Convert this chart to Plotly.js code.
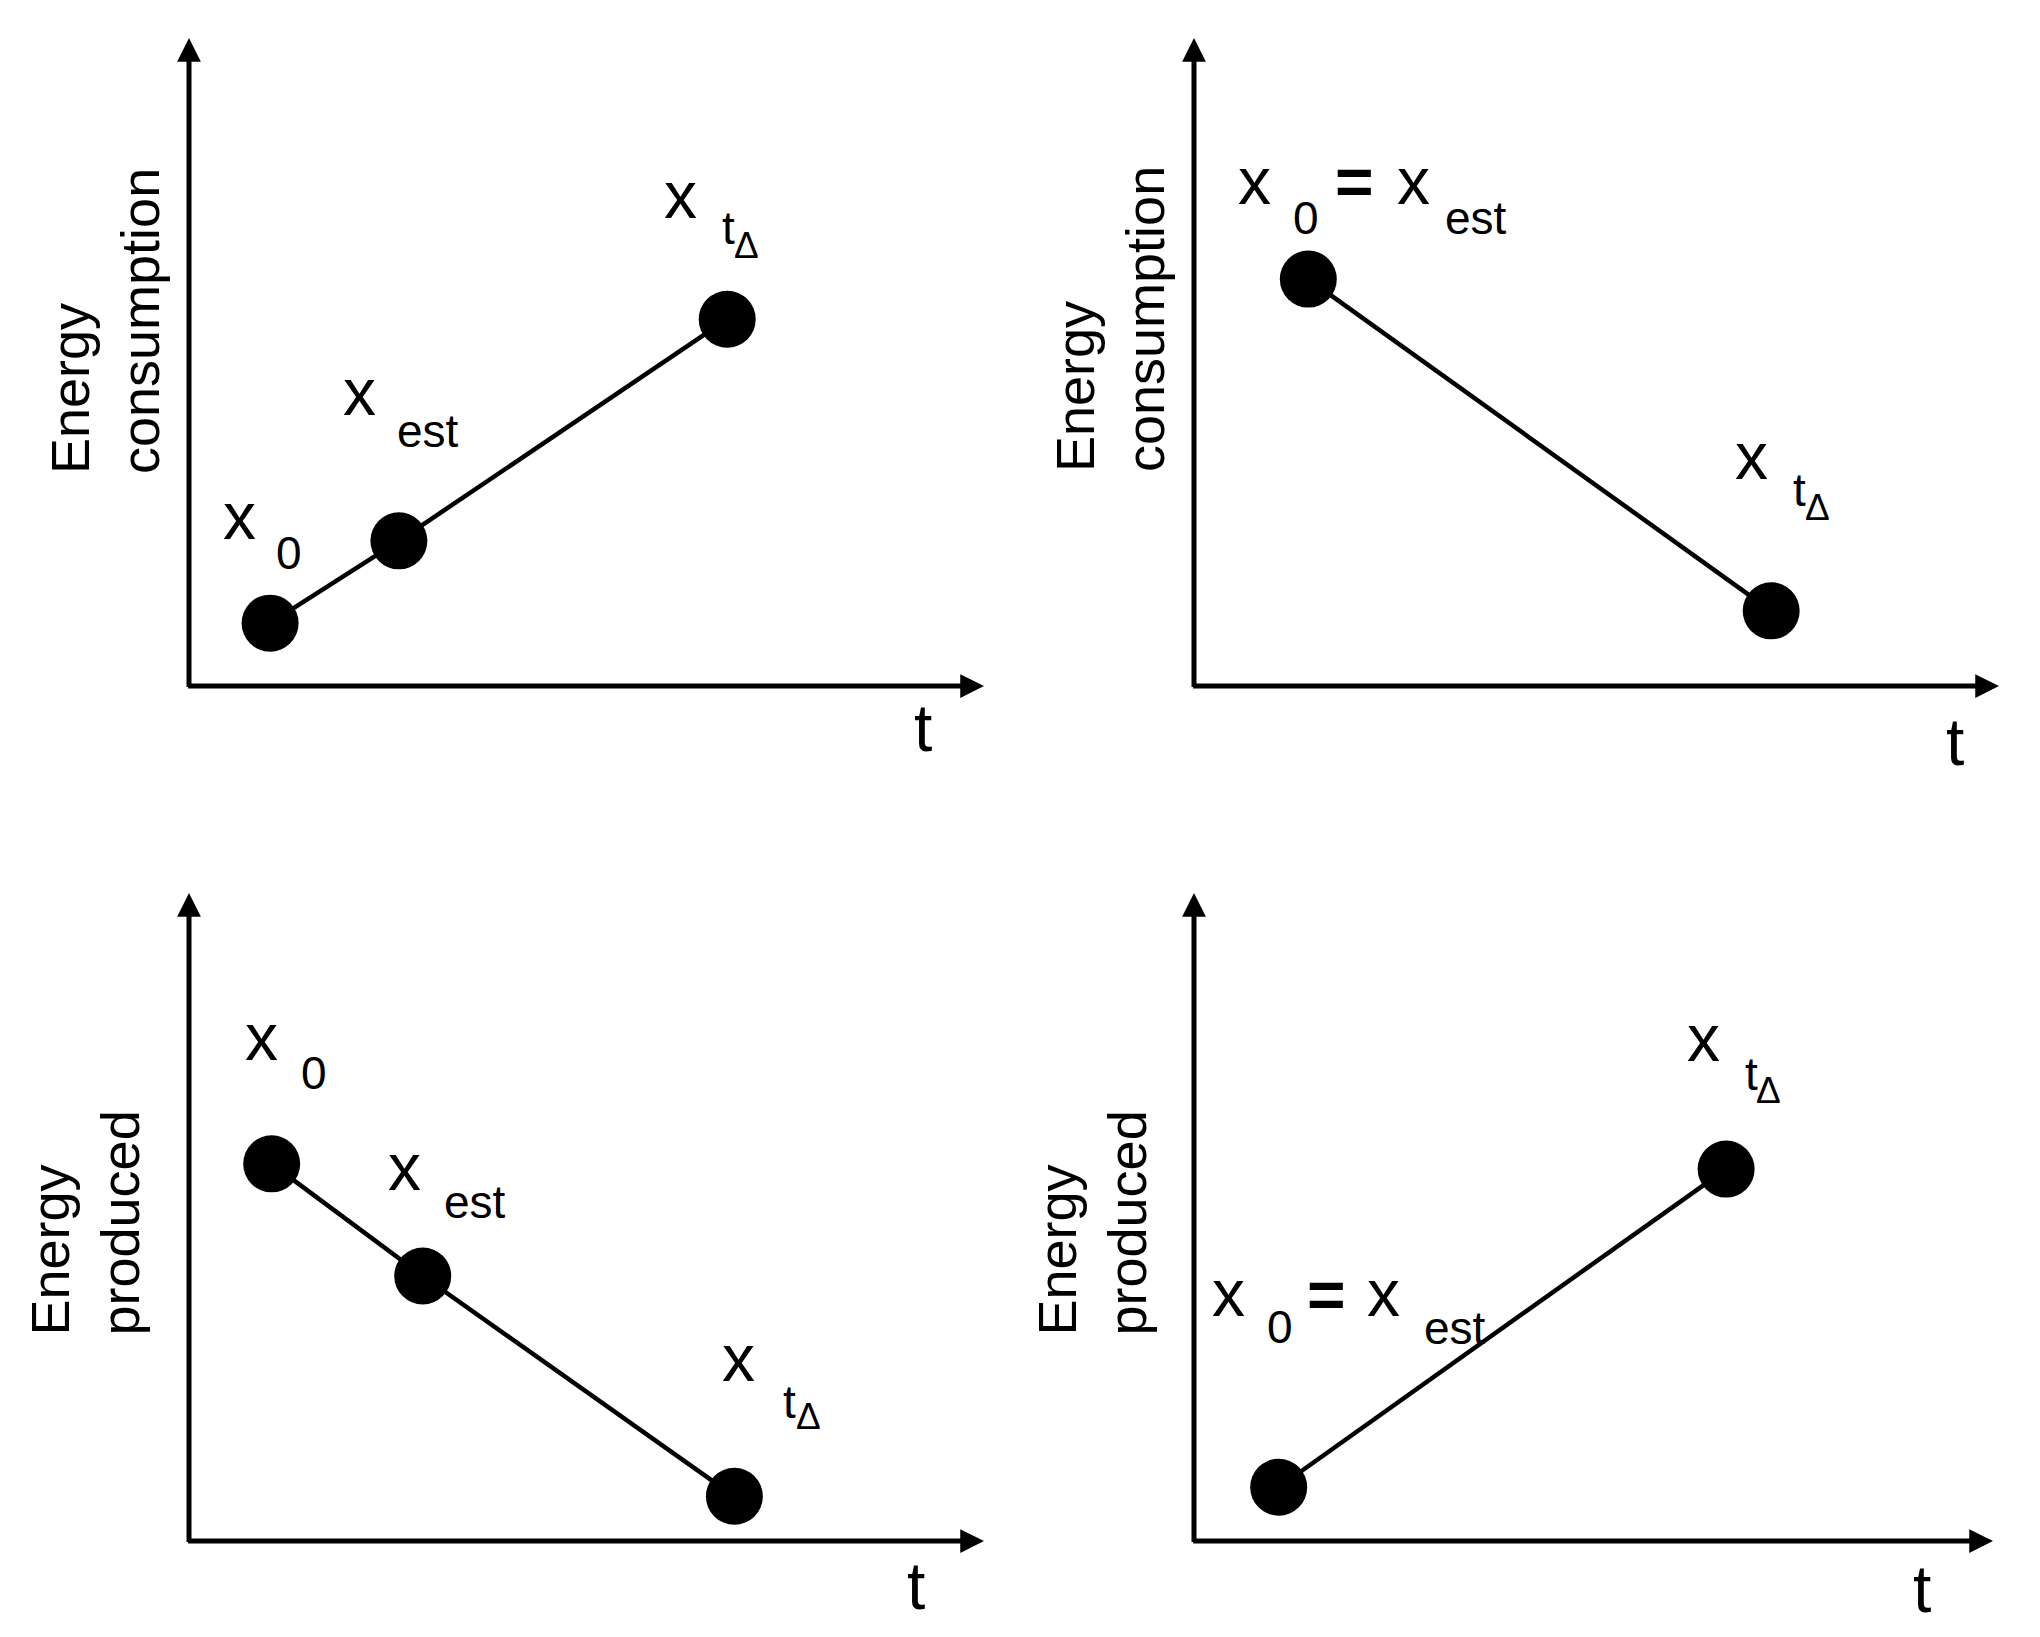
<!DOCTYPE html>
<html>
<head>
<meta charset="utf-8">
<script src="https://cdn.plot.ly/plotly-3.0.1.min.js"></script>
<style>
  html, body { margin: 0; padding: 0; background: #ffffff; }
  #chart { width: 2040px; height: 1637px; }
</style>
</head>
<body>
<div id="chart"></div>
<script>
// ------------------------- data -------------------------
const panelIds = ['tl', 'tr', 'bl', 'br'];
const yTitles = ['Energy<br>consumption', 'Energy<br>consumption', 'Energy<br>produced', 'Energy<br>produced'];
const xTitle = 't';
const axisMax = 10;

const tlTime   = [1.02, 2.64, 6.77];
const tlEnergy = [0.97, 2.24, 5.66];
const tlLabels = ['x0', 'xest', 'xt'];

const trTime   = [1.42, 7.17];
const trEnergy = [6.28, 1.16];
const trLabels = ['x0=xest', 'xt'];

const blTime   = [1.04, 2.94, 6.86];
const blEnergy = [5.82, 4.09, 0.69];
const blLabels = ['x0', 'xest', 'xt'];

const brTime   = [1.06, 6.66];
const brEnergy = [0.83, 5.74];
const brLabels = ['x0=xest', 'xt'];

// label texts: [text, role]
const labelPieces = {
  'x0':      [['x', 'main'], ['0', 'sub']],
  'xest':    [['x', 'main'], ['est', 'sub']],
  'xt':      [['x', 'main'], ['t', 'sub'], ['Δ', 'subsub']],
  'x0=xest': [['x', 'main'], ['0', 'sub'], ['=', 'eq'], ['x', 'main'], ['est', 'sub']]
};

// ------------------------- layout / style -------------------------
const FONT = 'Liberation Sans, Arial, Helvetica, sans-serif';
const roleSize = { main: 66, eq: 66, sub: 46, subsub: 37 };

const domains = {
  tl: { x: [189 / 2040, 984 / 2040],  y: [1 - 686 / 1637, 1 - 38 / 1637] },
  tr: { x: [1194 / 2040, 1999 / 2040], y: [1 - 686 / 1637, 1 - 38 / 1637] },
  bl: { x: [189 / 2040, 984 / 2040],  y: [1 - 1541 / 1637, 1 - 893 / 1637] },
  br: { x: [1194 / 2040, 1993 / 2040], y: [1 - 1541 / 1637, 1 - 893 / 1637] }
};

// pixel offsets (ink centre relative to the point centre, screen px, y down)
const labelOffsets = {
  tl: [[[-31, -101], [19, -70]], [[-39, -143], [29, -110]], [[-47, -119], [1, -91], [19, -74]]],
  tr: [[[-54, -92], [-2, -61], [46, -97], [105, -92], [168, -61]], [[-20, -149], [28, -121], [46, -103]]],
  bl: [[[-10, -121], [42, -91]], [[-18, -103], [52, -74]], [[4, -133], [55, -94], [74, -80]]],
  br: [[[-50, -189], [1, -160], [48, -192], [105, -189], [176, -159]], [[-23, -125], [25, -95], [42, -79]]]
};
const tOffsets = { tl: [-61, 42], tr: [-44, 56], bl: [-68, 45], br: [-71, 48] };
const yTitleOffsets = { tl: [-84, 210], tr: [-84, 212], bl: [-105, 203], br: [-103, 203] };

const series = {
  tl: { t: tlTime, e: tlEnergy, lab: tlLabels },
  tr: { t: trTime, e: trEnergy, lab: trLabels },
  bl: { t: blTime, e: blEnergy, lab: blLabels },
  br: { t: brTime, e: brEnergy, lab: brLabels }
};

const traces = [];
const annotations = [];
const layout = {
  width: 2040, height: 1637, autosize: false,
  margin: { l: 0, r: 0, t: 0, b: 0, pad: 0 },
  paper_bgcolor: '#ffffff', plot_bgcolor: '#ffffff',
  showlegend: false,
  font: { family: FONT, color: '#000000' }
};

panelIds.forEach(function (id, i) {
  const s = i === 0 ? '' : String(i + 1);
  const xa = 'x' + s, ya = 'y' + s;
  const d = series[id];

  layout['xaxis' + s] = { domain: domains[id].x, range: [0, axisMax], visible: false, fixedrange: true, anchor: ya };
  layout['yaxis' + s] = { domain: domains[id].y, range: [0, axisMax], visible: false, fixedrange: true, anchor: xa };

  traces.push({
    x: d.t, y: d.e, xaxis: xa, yaxis: ya,
    type: 'scatter', mode: 'lines+markers',
    line: { color: '#000000', width: 4.5 },
    marker: { size: 57, color: '#000000' },
    cliponaxis: false, hoverinfo: 'skip'
  });

  // axis arrows
  annotations.push({
    xref: xa, yref: ya, axref: xa, ayref: ya,
    x: axisMax, y: 0, ax: -0.03, ay: 0, text: '',
    showarrow: true, arrowhead: 2, arrowsize: 0.95, arrowwidth: 5, arrowcolor: '#000000'
  });
  annotations.push({
    xref: xa, yref: ya, axref: xa, ayref: ya,
    x: 0, y: axisMax, ax: 0, ay: -0.04, text: '',
    showarrow: true, arrowhead: 2, arrowsize: 0.95, arrowwidth: 5, arrowcolor: '#000000'
  });

  // x axis title "t"
  annotations.push({
    xref: xa, yref: ya, x: axisMax, y: 0, text: xTitle, showarrow: false,
    xanchor: 'center', yanchor: 'middle',
    xshift: tOffsets[id][0], yshift: -tOffsets[id][1],
    font: { family: FONT, size: 66, color: '#000000' }
  });

  // y axis title
  annotations.push({
    xref: xa, yref: ya, x: 0, y: 0, text: yTitles[i], showarrow: false,
    textangle: -90, align: 'left', xanchor: 'center', yanchor: 'bottom',
    xshift: yTitleOffsets[id][0], yshift: yTitleOffsets[id][1],
    font: { family: FONT, size: 54, color: '#000000' }
  });

  // point labels
  d.lab.forEach(function (key, k) {
    const pieces = labelPieces[key];
    pieces.forEach(function (p, j) {
      const size = roleSize[p[1]];
      const off = labelOffsets[id][k][j];
      // box middle vs ink centre correction (x-height glyph)
      const corr = p[0] === 'x' ? (0.3465 - 0.26) * size : 0;
      const txt = p[1] === 'eq' ? '<b>' + p[0] + '</b>' : p[0];
      annotations.push({
        xref: xa, yref: ya, x: d.t[k], y: d.e[k], text: txt, showarrow: false,
        xanchor: 'center', yanchor: 'middle',
        xshift: off[0], yshift: -off[1] + corr,
        font: { family: FONT, size: size, color: '#000000' }
      });
    });
  });
});

layout.annotations = annotations;

Plotly.newPlot('chart', traces, layout, { staticPlot: true, displayModeBar: false });
</script>
</body>
</html>
